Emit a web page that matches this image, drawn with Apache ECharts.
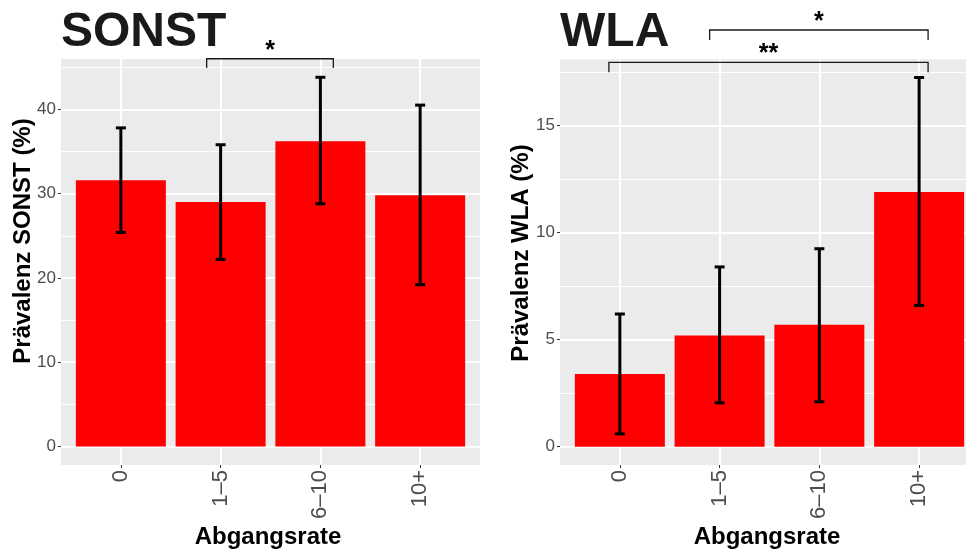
<!DOCTYPE html>
<html>
<head>
<meta charset="utf-8">
<script src="https://cdn.jsdelivr.net/npm/echarts@6/dist/echarts.min.js"></script>
<style>
  html, body { margin: 0; padding: 0; background: #fff; }
  #chart { width: 966px; height: 551px; }
</style>
</head>
<body>
<div id="chart"></div>
<script>
const categories = ["0", "1–5", "6–10", "10+"];

const sonstValues = [31.6, 29.0, 36.2, 29.8];
const sonstLow = [25.4, 22.2, 28.8, 19.2];
const sonstHigh = [37.8, 35.8, 43.8, 40.5];

const wlaValues = [3.4, 5.2, 5.7, 11.9];
const wlaLow = [0.6, 2.05, 2.1, 6.6];
const wlaHigh = [6.2, 8.4, 9.25, 17.25];

const sonstTicks = [0, 10, 20, 30, 40];
const sonstMinorTicks = [5, 15, 25, 35, 45];
const wlaTicks = [0, 5, 10, 15];
const wlaMinorTicks = [2.5, 7.5, 12.5, 17.5];

// [from, to, bracket top, leg end, label]
const sonstBrackets = [[0.86, 2.13, 46.0, 44.9, "*"]];
const wlaBrackets = [
  [0.9, 3.09, 19.47, 19.0, "*"],
  [-0.11, 3.09, 17.96, 17.5, "**"],
];

const FONT = "Liberation Sans, Arial, Helvetica, sans-serif";
const INK = "#1a1a1a";

const chart = echarts.init(document.getElementById("chart"));

function errorBarItem(params, api) {
  const x = api.value(0);
  const lo = api.coord([x, api.value(1)]);
  const hi = api.coord([x, api.value(2)]);
  const half = 5;
  const style = { stroke: "#000", lineWidth: 3 };
  return {
    type: "group",
    children: [
      { type: "line", shape: { x1: lo[0], y1: lo[1], x2: hi[0], y2: hi[1] }, style },
      { type: "line", shape: { x1: lo[0] - half, y1: lo[1], x2: lo[0] + half, y2: lo[1] }, style },
      { type: "line", shape: { x1: hi[0] - half, y1: hi[1], x2: hi[0] + half, y2: hi[1] }, style },
    ],
  };
}

function bracketRenderer(list) {
  return function (params, api) {
    const b = list[params.dataIndex];
    const p1 = api.coord([b[0], b[3]]);
    const p2 = api.coord([b[0], b[2]]);
    const p3 = api.coord([b[1], b[2]]);
    const p4 = api.coord([b[1], b[3]]);
    return {
      type: "group",
      children: [
        {
          type: "polyline",
          shape: { points: [p1, p2, p3, p4] },
          style: { stroke: INK, lineWidth: 1.3, fill: null },
        },
        {
          type: "text",
          x: (p2[0] + p3[0]) / 2,
          y: p2[1] - 8,
          style: {
            text: b[4],
            fill: "#000",
            font: "bold 25px " + FONT,
            align: "center",
            verticalAlign: "middle",
          },
        },
      ],
    };
  };
}

// the right panel is cut off by the image edge, so its x range stops early
function xAxisFor(gridIndex, max) {
  return {
    type: "value",
    gridIndex,
    min: -0.6,
    max,
    axisLine: { show: false, onZero: false },
    axisTick: { customValues: [0, 1, 2, 3], length: 3, lineStyle: { color: "#333", width: 1 } },
    axisLabel: {
      customValues: [0, 1, 2, 3],
      formatter: (v) => categories[v],
      rotate: 90,
      margin: 5,
      color: "#4d4d4d",
      fontSize: 22,
      fontFamily: FONT,
    },
    splitLine: { show: true, lineStyle: { color: "#fff", width: 2 } },
  };
}

function yAxesFor(gridIndex, min, max, ticks, minor) {
  return [
    {
      type: "value",
      gridIndex,
      min,
      max,
      axisLine: { show: false, onZero: false },
      axisTick: { show: true, customValues: ticks, length: 3, lineStyle: { color: "#333", width: 1 } },
      axisLabel: { customValues: ticks, margin: 5, color: "#4d4d4d", fontSize: 17, fontFamily: FONT },
      splitLine: { show: true, lineStyle: { color: "#fff", width: 2 } },
    },
    {
      type: "value",
      gridIndex,
      position: "left",
      min,
      max,
      axisLine: { show: false, onZero: false },
      axisTick: { show: false, customValues: minor },
      axisLabel: { show: false },
      splitLine: { show: true, lineStyle: { color: "#fff", width: 1 } },
    },
  ];
}

function panelSeries(idx, values, low, high, brackets) {
  return [
    {
      type: "bar",
      xAxisIndex: idx,
      yAxisIndex: idx * 2,
      data: values.map((v, i) => [i, v]),
      barWidth: 90,
      itemStyle: { color: "#ff0000" },
      z: 2,
    },
    {
      type: "custom",
      xAxisIndex: idx,
      yAxisIndex: idx * 2,
      data: low.map((l, i) => [i, l, high[i]]),
      encode: { x: 0, y: [1, 2] },
      renderItem: errorBarItem,
      z: 3,
    },
    {
      type: "custom",
      xAxisIndex: idx,
      yAxisIndex: idx * 2,
      data: brackets.map((b) => [b[0], b[2], b[1], b[3]]),
      encode: { x: [0, 2], y: [1, 3] },
      renderItem: bracketRenderer(brackets),
      clip: false,
      z: 4,
    },
  ];
}

chart.setOption({
  animation: false,
  grid: [
    { left: 61, top: 59, width: 419, height: 406, show: true, backgroundColor: "#ebebeb", borderWidth: 0 },
    { left: 560, top: 59.3, right: 0, height: 405.7, show: true, backgroundColor: "#ebebeb", borderWidth: 0 },
  ],
  xAxis: [xAxisFor(0, 3.6), xAxisFor(1, 3.47)],
  yAxis: [
    ...yAxesFor(0, -2.19, 45.97, sonstTicks, sonstMinorTicks),
    ...yAxesFor(1, -0.855, 18.1, wlaTicks, wlaMinorTicks),
  ],
  series: [
    ...panelSeries(0, sonstValues, sonstLow, sonstHigh, sonstBrackets),
    ...panelSeries(1, wlaValues, wlaLow, wlaHigh, wlaBrackets),
  ],
  graphic: [
    { type: "text", x: 61, y: 33, style: { text: "SONST", font: "bold 48px " + FONT, fill: INK, align: "left", verticalAlign: "middle" } },
    { type: "text", x: 560, y: 33, style: { text: "WLA", font: "bold 48px " + FONT, fill: INK, align: "left", verticalAlign: "middle" } },
    { type: "text", x: 23, y: 241, rotation: Math.PI / 2, style: { text: "Prävalenz SONST (%)", font: "bold 24px " + FONT, fill: "#000", align: "center", verticalAlign: "middle" } },
    { type: "text", x: 521, y: 253, rotation: Math.PI / 2, style: { text: "Prävalenz WLA (%)", font: "bold 24px " + FONT, fill: "#000", align: "center", verticalAlign: "middle" } },
    { type: "text", x: 268, y: 537, style: { text: "Abgangsrate", font: "bold 24px " + FONT, fill: "#000", align: "center", verticalAlign: "middle" } },
    { type: "text", x: 767, y: 537, style: { text: "Abgangsrate", font: "bold 24px " + FONT, fill: "#000", align: "center", verticalAlign: "middle" } },
  ],
});
</script>
</body>
</html>
